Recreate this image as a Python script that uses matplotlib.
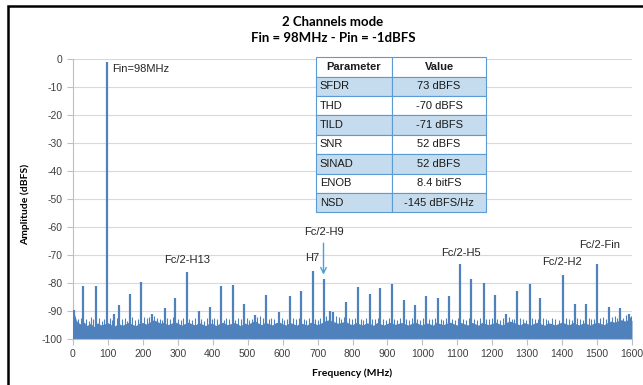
import numpy as np
import matplotlib.pyplot as plt
import matplotlib.patches as patches

plt.rcParams['axes.unicode_minus'] = False

# DATA
# noise floor, one value every 10 MHz (0 .. 1600)
noise_freq = list(range(0, 1610, 10))
noise_level = [-89.5, -93.5, -94.6, -93.8, -95.2, -94.4, -95.6, -94.2, -95.0, -94.6,
               -94.2, -94.9, -95.3, -94.4, -95.1, -94.6, -94.0, -94.8, -95.2, -94.3,
               -94.1, -94.7, -93.9, -93.2, -93.6, -94.4, -94.0, -94.9, -94.5, -93.8,
               -94.3, -95.1, -94.5, -94.0, -94.6, -95.0, -94.1, -94.7, -95.2, -94.3,
               -94.5, -95.2, -94.4, -94.0, -94.9, -94.6, -94.1, -94.5, -95.3, -94.2,
               -94.8, -94.1, -93.4, -94.3, -94.9, -94.0, -94.5, -95.0, -94.2, -93.9,
               -94.6, -95.0, -94.1, -94.5, -95.1, -94.2, -94.6, -95.0, -94.0, -94.4,
               -94.9, -94.3, -93.6, -93.2, -93.5, -94.0, -94.4, -94.0, -93.6, -94.5,
               -94.9, -94.1, -94.6, -95.0, -94.2, -94.5, -95.1, -94.1, -94.6, -95.0,
               -94.4, -94.0, -94.8, -94.5, -94.1, -94.6, -95.0, -94.4, -94.0, -94.6,
               -95.0, -94.2, -94.5, -95.1, -94.0, -94.5, -94.9, -94.3, -94.0, -94.6,
               -95.0, -94.1, -94.6, -95.0, -94.0, -94.5, -95.1, -94.1, -94.5, -94.9,
               -94.4, -94.0, -94.6, -95.0, -94.1, -93.6, -94.0, -94.5, -95.0, -94.1,
               -94.5, -95.0, -94.4, -94.0, -94.6, -95.1, -94.2, -94.5, -95.0, -94.4,
               -94.0, -94.5, -95.0, -94.1, -94.6, -95.0, -94.2, -94.5, -95.0, -94.4,
               -94.0, -94.4, -94.9, -94.1, -93.6, -94.0, -93.5, -93.1, -93.6, -93.0,
               -93.4]

# small noise peaks on top of the floor
grass_freq = [7, 14, 22, 37, 45, 52, 58, 74, 83, 90,
              105, 112, 126, 140, 148, 155, 170, 178, 186, 203,
              211, 218, 232, 240, 248, 255, 270, 278, 285, 300,
              308, 315, 333, 340, 348, 367, 375, 383, 398, 405,
              413, 431, 438, 446, 465, 472, 480, 497, 505, 513,
              528, 536, 545, 560, 568, 576, 597, 605, 613, 630,
              638, 646, 661, 668, 676, 693, 700, 708, 725, 752,
              760, 768, 775, 790, 798, 806, 823, 831, 840, 857,
              865, 872, 888, 896, 905, 920, 928, 937, 953, 961,
              969, 986, 994, 1002, 1019, 1027, 1036, 1052, 1060, 1068,
              1085, 1093, 1101, 1117, 1125, 1133, 1148, 1156, 1165, 1183,
              1191, 1199, 1215, 1222, 1230, 1248, 1256, 1263, 1280, 1288,
              1296, 1315, 1322, 1330, 1345, 1353, 1361, 1370, 1380, 1390,
              1411, 1419, 1427, 1444, 1452, 1460, 1476, 1484, 1492, 1509,
              1517, 1525, 1542, 1550, 1558, 1563, 1575, 1582, 1593, 1598]
grass_level = [-92.0, -93.0, -92.5, -92.8, -93.5, -92.2, -93.0, -92.6, -93.4, -92.8,
               -92.5, -93.2, -92.4, -93.0, -92.6, -93.5, -92.3, -93.1, -92.7, -92.2,
               -92.6, -92.0, -91.8, -92.4, -92.9, -93.2, -92.5, -93.0, -92.3, -92.8,
               -93.1, -92.5, -92.8, -93.3, -92.4, -92.9, -93.4, -92.6, -93.0, -92.4,
               -92.9, -93.2, -92.5, -92.8, -93.3, -92.6, -93.0, -92.4, -93.2, -92.7,
               -92.2, -91.8, -92.6, -93.0, -92.5, -92.9, -92.4, -93.1, -92.8, -92.5,
               -93.0, -92.6, -92.9, -93.2, -92.4, -92.8, -93.1, -92.6, -91.8, -91.9,
               -92.3, -92.8, -92.1, -92.6, -93.0, -92.4, -92.8, -93.2, -92.5, -92.9,
               -93.0, -92.4, -92.8, -93.2, -92.6, -92.9, -93.3, -92.5, -92.8, -93.1,
               -92.6, -92.9, -93.2, -92.5, -92.8, -93.0, -92.4, -92.9, -93.2, -92.6,
               -92.8, -93.1, -92.5, -92.9, -93.2, -92.6, -92.9, -93.3, -92.5, -92.8,
               -93.0, -92.4, -92.8, -93.1, -92.5, -92.3, -92.8, -93.0, -92.6, -92.9,
               -93.2, -92.5, -92.8, -93.0, -92.4, -92.9, -93.2, -92.6, -92.9, -93.1,
               -92.5, -92.8, -93.1, -92.6, -92.9, -93.2, -92.4, -92.8, -93.0, -92.6,
               -92.3, -92.7, -92.2, -91.8, -92.5, -91.9, -92.4, -91.6, -92.2, -91.9]

# spurs (MHz, dBFS)
spur_freq = [3, 30, 65, 98, 118, 132, 163, 195, 225, 262, 292, 326, 360, 391, 424,
             458, 490, 521, 553, 590, 622, 653, 686, 717, 735, 745, 782, 816, 849,
             880, 913, 946, 978, 1011, 1045, 1077, 1109, 1140, 1176, 1207, 1240,
             1271, 1307, 1338, 1403, 1436, 1468, 1501, 1534, 1567, 1590]
spur_level = [-89.5, -81.0, -81.0, -1.0, -91.0, -87.8, -84.0, -79.6, -91.0, -88.9,
              -85.4, -76.0, -90.0, -88.4, -81.0, -80.6, -87.4, -91.5, -84.4, -90.5,
              -84.7, -82.8, -75.6, -78.4, -90.0, -90.5, -86.8, -81.4, -83.8, -81.8,
              -80.2, -86.2, -87.7, -84.7, -85.3, -84.7, -73.1, -78.7, -79.9, -84.4,
              -91.0, -82.8, -80.4, -85.4, -77.2, -87.4, -87.4, -73.3, -88.5, -88.9,
              -91.0]

# labels (text, MHz, dBFS)
label_text = ["Fc/2-H13", "H7", "Fc/2-H9", "Fc/2-H5", "Fc/2-H2", "Fc/2-Fin"]
label_freq = [326, 686, 718, 1111, 1400, 1507]
label_level = [-71.8, -71.2, -61.8, -69.2, -72.6, -66.4]

table_params = ["SFDR", "THD", "TILD", "SNR", "SINAD", "ENOB", "NSD"]
table_values = ["73 dBFS", "-70 dBFS", "-71 dBFS", "52 dBFS", "52 dBFS", "8.4 bitFS",
                "-145 dBFS/Hz"]

blue = '#4F81BD'
grey = '#404040'

fig = plt.figure(figsize=(6.43, 3.85), dpi=100)
ax = fig.add_axes([73/643, 1-339/385, (632-73)/643, (339-59)/385])

ax.fill_between(noise_freq, -100, noise_level, color=blue, lw=0, zorder=2)
ax.vlines(grass_freq, -100, grass_level, color=blue, lw=0.8, zorder=2)
ax.vlines(spur_freq, -100, spur_level, color=blue, lw=1.6, zorder=3)

ax.set_xlim(0, 1600)
ax.set_ylim(-100, 0)
ax.set_xticks(np.arange(0, 1601, 100))
ax.set_yticks(np.arange(-100, 1, 10))
ax.grid(axis='y', color='#d9d9d9', lw=0.8)
ax.set_axisbelow(True)
for s in ['top', 'right']:
    ax.spines[s].set_visible(False)
ax.spines['left'].set_color('#bfbfbf')
ax.spines['bottom'].set_color('#bfbfbf')
ax.tick_params(colors='#bfbfbf', labelcolor=grey, labelsize=7.5, length=4, width=0.8)
for lab in ax.get_xticklabels() + ax.get_yticklabels():
    lab.set_family('Liberation Sans')
ax.set_xlabel("Frequency (MHz)", fontsize=7.5, fontweight='bold', family='Lato')
ax.set_ylabel("Amplitude (dBFS)", fontsize=7.5, fontweight='bold', family='Lato')
ax.xaxis.set_label_coords((352-73)/559, -(368-339)/280)
ax.yaxis.set_label_coords(-(73-30)/559, (339-204)/280)

fig.text(333/643, 1-21.5/385, "2 Channels mode", ha='center', va='center',
         fontsize=9.5, fontweight='bold', family='Lato')
fig.text(333/643, 1-38/385, "Fin = 98MHz - Pin = -1dBFS", ha='center', va='center',
         fontsize=9.5, fontweight='bold', family='Lato')

ax.text(112, -3.5, "Fin=98MHz", fontsize=8, color='#262626', va='center', ha='left',
        family='Liberation Sans')
for t, f, l in zip(label_text, label_freq, label_level):
    ax.text(f, l, t, fontsize=8, color='#262626', ha='center', va='center',
            family='Liberation Sans')
ax.annotate("", xy=(717, -78.0), xytext=(717, -64.8),
            arrowprops=dict(arrowstyle='->', color='#41a0e0', lw=1.0))

# parameter table
tab = ax.table(cellText=[[p, v] for p, v in zip(table_params, table_values)],
               colLabels=["Parameter", "Value"],
               bbox=[(316-73)/559, 1-(212.3-59)/280, (486-316)/559, (212.3-57.3)/280],
               colWidths=[76, 94], cellLoc='center')
tab.auto_set_font_size(False)
for (r, c), cell in tab.get_celld().items():
    cell.set_edgecolor('#5B9BD5')
    cell.set_linewidth(0.8)
    cell.get_text().set_fontsize(8)
    cell.get_text().set_family('Liberation Sans')
    cell.get_text().set_color('#1a1a1a')
    if r == 0:
        cell.set_facecolor('white')
        cell.get_text().set_fontweight('bold')
    elif r % 2 == 1:
        cell.set_facecolor('#C5DCEE')
    else:
        cell.set_facecolor('white')
    if c == 0 and r > 0:
        cell.get_text().set_ha('left')
        cell.PAD = 0.05
tab.set_zorder(5)

# chart frame
fig.patches.append(patches.Rectangle((8/643, -0.1), 1.2, 1.1 - 6/385, transform=fig.transFigure,
                                     fill=False, ec='black', lw=1.8))

fig.savefig('out.png', dpi=100)
